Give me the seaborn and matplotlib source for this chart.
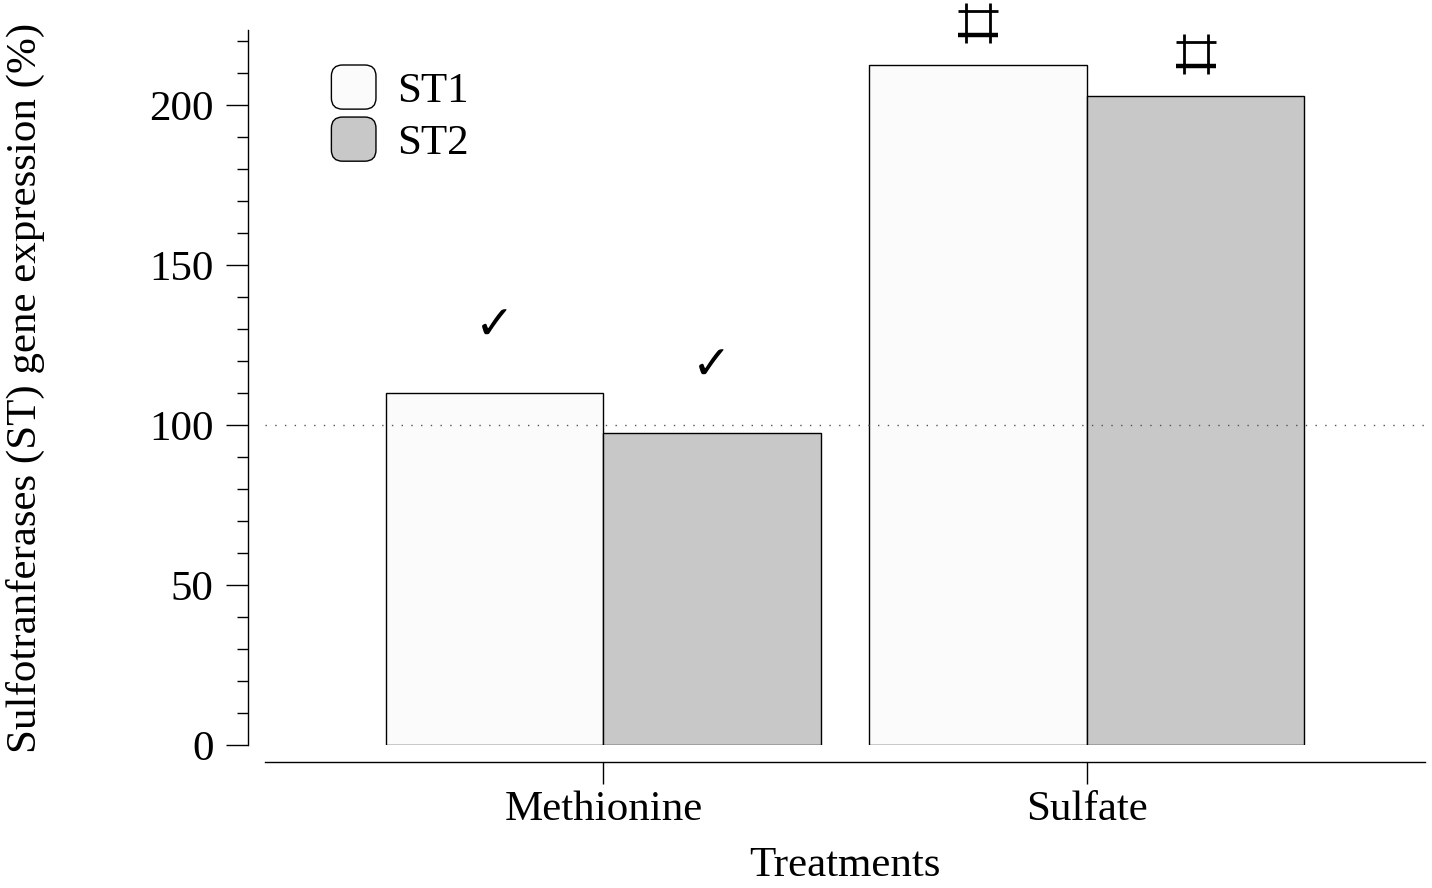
import pandas as pd
import matplotlib
matplotlib.use('Agg')
import matplotlib.pyplot as plt
import seaborn as sns
from matplotlib.patches import FancyBboxPatch
from matplotlib.legend_handler import HandlerPatch
from matplotlib.ticker import MultipleLocator
from matplotlib.path import Path
from matplotlib import transforms

treatments = ['Methionine', 'Sulfate']
genes = ['ST1', 'ST2']
st1_values = [110.0, 212.5]
st2_values = [97.5, 202.8]
marks = ['\u2713', '\u2317']   # one significance mark per treatment
gene_colors = ['#fbfbfb', '#c8c8c8']

df = pd.DataFrame({
    'treatment': treatments * 2,
    'gene': [genes[0]] * 2 + [genes[1]] * 2,
    'expression': st1_values + st2_values,
})

sns.set_theme(style='ticks')
plt.rcParams['font.family'] = ['Liberation Serif', 'DejaVu Sans']
plt.rcParams['font.size'] = 31
plt.rcParams['text.color'] = 'black'
plt.rcParams['axes.labelcolor'] = 'black'

fig = plt.figure(figsize=(14.32, 8.88), dpi=100)
ax = fig.add_axes([0.1851, 0.161, 0.8101, 0.8052])

sns.barplot(data=df, x='treatment', y='expression', hue='gene',
            palette=gene_colors, width=0.9, saturation=1,
            edgecolor='black', linewidth=1, ax=ax)

ax.axhline(100, ls=(0, (1, 6)), color='#555555', lw=1, zorder=5)

# no installed font has U+2317 (viewdata square), so it is drawn as a path marker
a = 0.31
square_path = Path([(-a, -0.5), (-a, 0.5), (a, -0.5), (a, 0.5), (-0.5, a), (0.5, a)],
                   [Path.MOVETO, Path.LINETO] * 3)
square_base = Path([(-0.5, -a), (0.5, -a)], [Path.MOVETO, Path.LINETO])
raised = transforms.offset_copy(ax.transData, fig=fig, x=0, y=30, units='points')

# marks above each bar
for cont in ax.containers:
    for bar, m in zip(cont, marks):
        xc = bar.get_x() + bar.get_width() / 2
        if m == '\u2317':
            ax.plot([xc], [bar.get_height()], marker=square_path, ms=29, mew=2,
                    color='black', transform=raised, clip_on=False, ls='none')
            ax.plot([xc], [bar.get_height()], marker=square_base, ms=29, mew=3.2,
                    color='black', transform=raised, clip_on=False, ls='none')
        else:
            ax.annotate(m, (xc, bar.get_height()),
                        xytext=(0, 31), textcoords='offset points',
                        ha='center', va='bottom', fontsize=34,
                        family=['DejaVu Sans'])

ax.set_xlim(-0.7, 1.7)
ax.set_ylim(0, 223.4)
ax.yaxis.set_major_locator(MultipleLocator(50))
ax.yaxis.set_minor_locator(MultipleLocator(10))
ax.tick_params(axis='both', which='major', length=16, width=1, labelsize=31,
               color='black', labelcolor='black')
ax.tick_params(axis='y', which='minor', length=8, width=1, color='black')
ax.tick_params(axis='y', pad=9)
ax.tick_params(axis='x', pad=5)

sns.despine(ax=ax, offset=12)
for s in ['left', 'bottom']:
    ax.spines[s].set_color('black')
    ax.spines[s].set_linewidth(1)

ax.set_xlabel('Treatments', fontsize=31, labelpad=12)
ax.set_ylabel('Sulfotranferases (ST) gene expression (%)', fontsize=31, labelpad=75)


def round_box(legend, orig_handle, xdescent, ydescent, width, height, fontsize):
    return FancyBboxPatch((-xdescent + 1, -ydescent), width - 2, height,
                          boxstyle='round,pad=0,rounding_size=8')


handles, labels = ax.get_legend_handles_labels()
ax.legend(handles, labels, loc='upper left', frameon=False,
          bbox_to_anchor=(330 / 1432, 1 - 65 / 888), bbox_transform=fig.transFigure,
          borderpad=0, borderaxespad=0, handlelength=1.1, handleheight=1.2,
          labelspacing=0.15, handletextpad=0.45, fontsize=31,
          handler_map={type(handles[0]): HandlerPatch(patch_func=round_box)})

fig.savefig('out.png', dpi=100)
